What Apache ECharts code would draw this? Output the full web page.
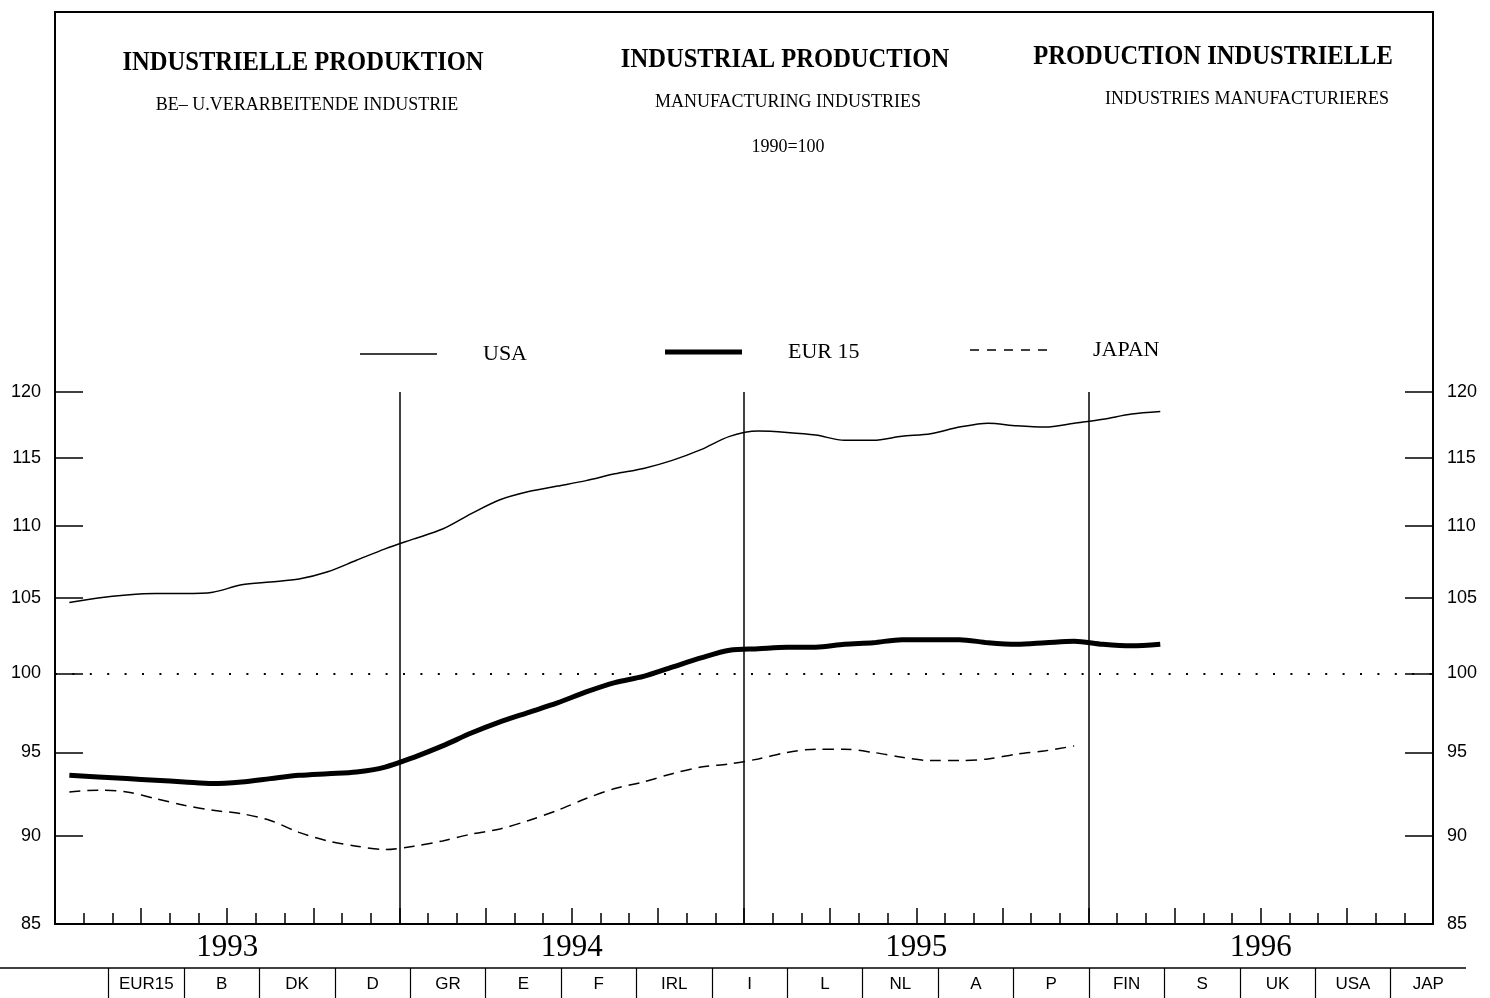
<!DOCTYPE html>
<html>
<head>
<meta charset="utf-8">
<script src="https://cdn.jsdelivr.net/npm/echarts@6/dist/echarts.min.js"></script>
<style>html,body{margin:0;padding:0;background:#fff;}#c{width:1490px;height:998px;}</style>
</head>
<body>
<div id="c"></div>
<script>
// ---- data ----
const years = ['1993', '1994', '1995', '1996'];
const monthNames = ['01','02','03','04','05','06','07','08','09','10','11','12'];
const usa = [104.7,105.0,105.2,105.3,105.3,105.4,105.9,106.1,106.3,106.8,107.6,108.4,
             109.1,109.8,110.9,111.9,112.5,112.9,113.3,113.8,114.2,114.8,115.6,116.6,
             117.0,116.9,116.7,116.3,116.3,116.6,116.8,117.3,117.6,117.4,117.3,117.6,
             117.9,118.3,118.5];
const eur15 = [93.6,93.5,93.4,93.3,93.2,93.1,93.2,93.4,93.6,93.7,93.8,94.1,
               94.7,95.4,96.2,96.9,97.5,98.1,98.8,99.4,99.8,100.4,101.0,101.5,
               101.6,101.7,101.7,101.9,102.0,102.2,102.2,102.2,102.0,101.9,102.0,102.1,
               101.9,101.8,101.9];
const japan = [92.6,92.7,92.6,92.2,91.8,91.5,91.3,90.9,90.2,89.7,89.4,89.2,
               89.4,89.7,90.1,90.4,90.9,91.5,92.2,92.8,93.2,93.7,94.1,94.3,
               94.6,95.0,95.2,95.2,95.0,94.7,94.5,94.5,94.6,94.9,95.1,95.4];
const yTicks = [85, 90, 95, 100, 105, 110, 115, 120];
const seriesNames = ['USA', 'EUR 15', 'JAPAN'];
const countries = ['EUR15','B','DK','D','GR','E','F','IRL','I','L','NL','A','P','FIN','S','UK','USA','JAP'];
const titles = ['INDUSTRIELLE PRODUKTION', 'INDUSTRIAL PRODUCTION', 'PRODUCTION INDUSTRIELLE'];
const subtitles = ['BE\u2013 U.VERARBEITENDE INDUSTRIE', 'MANUFACTURING INDUSTRIES', 'INDUSTRIES MANUFACTURIERES'];
const baseNote = '1990=100';

const months = [];
years.forEach(y => monthNames.forEach(m => months.push(y + '-' + m)));

const SERIF = '"Liberation Serif", "DejaVu Serif", serif';
const SANS = '"Liberation Sans", Arial, sans-serif';

const chart = echarts.init(document.getElementById('c'), null, {renderer: 'canvas'});

function yAxisCfg(pos) {
  return {
    type: 'log', logBase: 10, min: 85, max: 120, position: pos, gridIndex: 0,
    axisLine: {show: true, lineStyle: {color: '#000', width: 2}},
    axisTick: {show: true, inside: true, length: 28, customValues: yTicks, lineStyle: {color: '#000', width: 1.5}},
    axisLabel: {show: true, customValues: yTicks, color: '#000', fontFamily: SANS, fontSize: 18, margin: 14},
    splitLine: {show: false}
  };
}

const titleX = [303, 785, 1213];
const titleY = [63, 60, 57];
const subX = [307, 788, 1247];
const subY = [105, 102, 99];

const graphic = [
  {type: 'rect', shape: {x: 55, y: 12, width: 1378, height: 912}, style: {fill: 'none', stroke: '#000', lineWidth: 2}, z: 10},
  {type: 'line', shape: {x1: 0, y1: 968, x2: 1466, y2: 968}, style: {stroke: '#000', lineWidth: 1.5}}
];
titles.forEach((t, i) => graphic.push({
  type: 'text', x: titleX[i], y: titleY[i], scaleX: 0.91,
  style: {text: t, fill: '#000', font: 'bold 27px ' + SERIF, textAlign: 'center', textVerticalAlign: 'middle'}
}));
subtitles.forEach((t, i) => graphic.push({
  type: 'text', x: subX[i], y: subY[i],
  style: {text: t, fill: '#000', font: '18px ' + SERIF, textAlign: 'center', textVerticalAlign: 'middle'}
}));
graphic.push({
  type: 'text', x: 788, y: 147,
  style: {text: baseNote, fill: '#000', font: '18px ' + SERIF, textAlign: 'center', textVerticalAlign: 'middle'}
});

// legend icons (line samples), path aspect matches item size
const legendIcons = [
  'path://M0,0H77V1.5H0Z',
  'path://M0,0H77V5H0Z',
  'path://M0,0h9v1.5h-9zM17,0h9v1.5h-9zM34,0h9v1.5h-9zM51,0h9v1.5h-9zM68,0h9v1.5h-9z'
];
const legendLeft = [355, 660, 965];
const legendCenterY = [349, 347, 345];
const legendIconH = [1.5, 5, 1.5];
const legends = seriesNames.map((n, i) => ({
  data: [{name: n, icon: legendIcons[i]}],
  left: legendLeft[i], top: legendCenterY[i] - 13,
  itemWidth: 77, itemHeight: legendIconH[i], itemGap: 0,
  selectedMode: false,
  itemStyle: {color: '#000', borderWidth: 0},
  textStyle: {color: '#000', fontFamily: SERIF, fontSize: 22, lineHeight: 26, padding: [0, 0, 0, 41]}
}));

const option = {
  backgroundColor: '#fff',
  animation: false,
  graphic: graphic,
  legend: legends,
  grid: [
    {left: 55, right: 57, top: 392, bottom: 74},
    {left: 108.6, right: 24, top: 968, height: 30}
  ],
  xAxis: [
    { // months
      type: 'category', data: months, gridIndex: 0, boundaryGap: true, position: 'bottom',
      axisLine: {show: true, lineStyle: {color: '#000', width: 2}},
      axisTick: {show: true, inside: true, length: 11, interval: 0, lineStyle: {color: '#000', width: 1.5}},
      axisLabel: {show: false},
      splitLine: {show: true, interval: 11, showMinLine: false, showMaxLine: false, lineStyle: {color: '#000', width: 1.5}}
    },
    { // quarters
      type: 'category', data: months, gridIndex: 0, boundaryGap: true, position: 'bottom',
      axisLine: {show: false},
      axisTick: {show: true, inside: true, length: 16, interval: 2, lineStyle: {color: '#000', width: 1.5}},
      axisLabel: {show: false},
      splitLine: {show: false}
    },
    { // year labels
      type: 'value', gridIndex: 0, min: 0, max: 48, interval: 6, position: 'bottom',
      axisLine: {show: false}, axisTick: {show: false}, splitLine: {show: false},
      axisLabel: {
        show: true, color: '#000', fontFamily: SERIF, fontSize: 31, margin: 8,
        formatter: v => (v % 12 === 6 ? years[(v - 6) / 12] : '')
      }
    },
    { // country table
      type: 'category', data: countries, gridIndex: 1, boundaryGap: true, position: 'top',
      axisLine: {show: false}, axisTick: {show: false},
      axisLabel: {show: true, inside: true, interval: 0, margin: 8, color: '#000', fontFamily: SANS, fontSize: 17},
      splitLine: {show: true, interval: 0, showMinLine: true, showMaxLine: false, lineStyle: {color: '#000', width: 1.2}}
    }
  ],
  yAxis: [
    yAxisCfg('left'),
    yAxisCfg('right'),
    {type: 'value', gridIndex: 1, show: false}
  ],
  series: [
    {
      name: seriesNames[0], type: 'line', data: usa, xAxisIndex: 0, yAxisIndex: 0,
      symbol: 'none', smooth: 0.3, lineStyle: {color: '#000', width: 1.5}, itemStyle: {color: '#000'},
      markLine: {
        silent: true, symbol: 'none', label: {show: false},
        lineStyle: {color: '#000', width: 2, type: [2, 15.4]},
        data: [{yAxis: 100}]
      }
    },
    {
      name: seriesNames[1], type: 'line', data: eur15, xAxisIndex: 0, yAxisIndex: 0,
      symbol: 'none', smooth: 0.3, lineStyle: {color: '#000', width: 5}, itemStyle: {color: '#000'}
    },
    {
      name: seriesNames[2], type: 'line', data: japan, xAxisIndex: 0, yAxisIndex: 0,
      symbol: 'none', smooth: 0.3, lineStyle: {color: '#000', width: 1.5, type: [11, 7]}, itemStyle: {color: '#000'}
    }
  ]
};
chart.setOption(option);
</script>
</body>
</html>
